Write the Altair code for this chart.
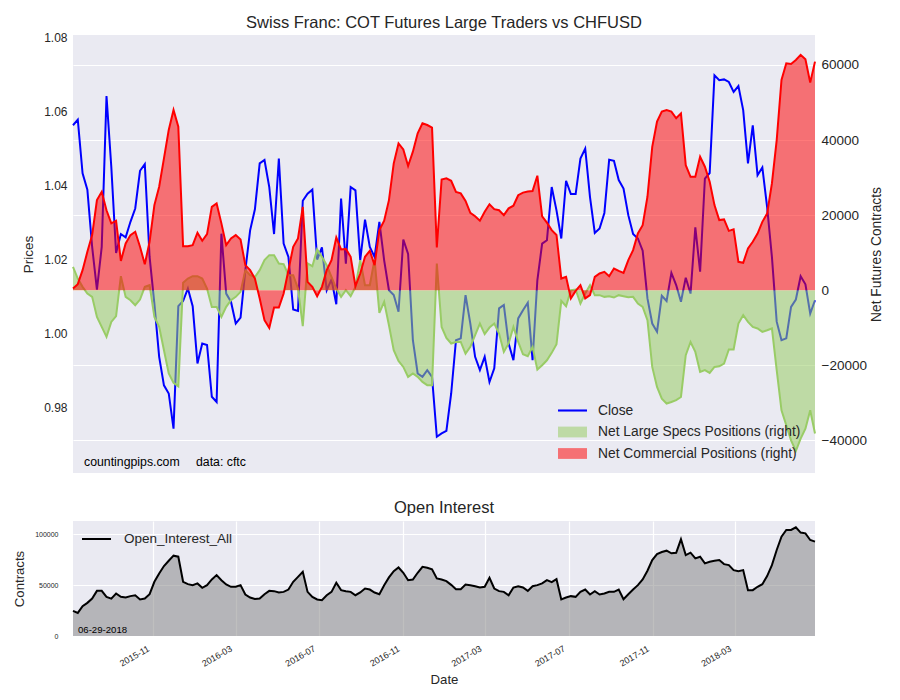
import altair as alt
import pandas as pd

FONT = "Liberation Sans"
TXT = "#262626"

dates = pd.date_range("2015-07-07", periods=156, freq="7D")

close = [
    1.0562, 1.0577, 1.0432, 1.0388, 1.0233, 1.0118, 1.0233, 1.0641, 1.0450, 1.0217,
    1.0268, 1.0259, 1.0301, 1.0337, 1.0439, 1.0457, 1.0206, 1.0080, 0.9936, 0.9859,
    0.9837, 0.9742, 1.0073, 1.0087, 1.0121, 1.0073, 0.9918, 0.9972, 0.9968, 0.9828,
    0.9814, 1.0269, 1.0107, 1.0085, 1.0026, 1.0042, 1.0170, 1.0278, 1.0335, 1.0459,
    1.0468, 1.0395, 1.0268, 1.0472, 1.0242, 1.0206, 1.0064, 1.0060, 1.0358, 1.0377,
    1.0388, 1.0199, 1.0232, 1.0116, 1.0145, 1.0078, 1.0364, 1.0188, 1.0395, 1.0386,
    1.0197, 1.0307, 1.0233, 1.0206, 1.0301, 1.0197, 1.0116, 1.0103, 1.0058, 1.0253,
    1.0214, 0.9981, 0.9891, 0.9882, 0.9900, 0.9882, 0.9720, 0.9729, 0.9736, 0.9837,
    0.9981, 0.9986, 1.0103, 1.0026, 0.9936, 0.9900, 0.9936, 0.9868, 0.9905, 1.0067,
    1.0076, 0.9972, 0.9927, 1.0040, 1.0062, 1.0082, 0.9927, 1.0143, 1.0242, 1.0251,
    1.0395, 1.0332, 1.0256, 1.0412, 1.0376, 1.0376, 1.0472, 1.0499, 1.0368, 1.0271,
    1.0283, 1.0325, 1.0469, 1.0466, 1.0414, 1.0391, 1.0319, 1.0268, 1.0256, 1.0223,
    1.0094, 1.0026, 1.0004, 1.0101, 1.0087, 1.0163, 1.0130, 1.0085, 1.0150, 1.0107,
    1.0286, 1.0166, 1.0418, 1.0433, 1.0697, 1.0684, 1.0686, 1.0679, 1.0652, 1.0668,
    1.0603, 1.0459, 1.0562, 1.0427, 1.0448, 1.0341, 1.0206, 1.0031, 0.9981, 0.9986,
    1.0071, 1.0091, 1.0154, 1.0132, 1.0053, 1.0089,
]

commercial = [
    445, 1600, 5330, 10220, 14670, 24000, 26200, 21300, 17800, 18500,
    7800, 12450, 14670, 15560, 11560, 6930, 12900, 22670, 27560, 35100,
    42700, 48000, 43560, 11730, 11730, 12000, 15300, 13160, 14930, 22200,
    23100, 17800, 12000, 13780, 14670, 13500, 6670, 5330, 3100, -2200,
    -8000, -10050, -4620, -4620, -890, 5330, 11560, 13780, 22200, 2220,
    890, -1600, 890, 5330, 8000, 14050, 10850, 11000, 8890, 1070,
    4450, 8890, 10500, 6670, 16000, 18500, 24000, 33800, 39100, 37500,
    33100, 36900, 41800, 44450, 44000, 43300, 11400, 29500, 29800, 29160,
    26200, 25800, 23800, 20600, 19700, 18500, 20900, 22900, 21600, 21300,
    20000, 21800, 22500, 25300, 26000, 26300, 26400, 30500, 19700, 18000,
    16000, 14700, 3100, 3560, -2200, -180, 1330, -2200, -1330, 3560,
    4450, 4890, 3730, 5780, 5160, 4620, 8000, 10670, 15100, 17300,
    24900, 38200, 44900, 47560, 48000, 47560, 45800, 47100, 33300, 30200,
    30200, 35560, 32900, 28900, 22670, 18670, 18850, 15800, 16200, 7560,
    7290, 11100, 12900, 15100, 18200, 20400, 28450, 40000, 56000, 60450,
    60270, 61340, 62700, 61500, 55300, 60900,
]

specs = [
    6220, 3110, 890, -890, -1780, -7110, -9780, -12450, -8450, -6930,
    3730, -1780, -2670, -4000, -2490, 890, 1330, -7110, -9780, -16000,
    -22200, -24700, -25600, 1960, 3110, 3730, 3730, 3110, 445, -4450,
    -4450, -7110, -4450, -2670, -1780, -445, 5330, 4000, 3500, 5330,
    8000, 9330, 9330, 7110, 6930, 4000, 4000, 445, -9600, 7110,
    6400, 10850, 8890, 6670, 3560, 445, -1780, 0, -1600, 890,
    8000, 1330, 1330, 8180, -6050, -3110, -9330, -16000, -18850, -20450,
    -23100, -22200, -23100, -24450, -25300, -25300, 7110, -9780, -12700, -14200,
    -13800, -13800, -16900, -15100, -12000, -8890, -11700, -9960, -8890, -11560,
    -16450, -14200, -9780, -13800, -17070, -17600, -15100, -21160, -20000, -18670,
    -16700, -14400, -2840, -4270, 0, 180, -3560, -890, 1330, -1330,
    -1330, -1780, -1600, -1960, -1330, -1600, -1870, -1780, -3560, -4450,
    -8000, -20450, -25780, -28900, -30200, -29800, -29300, -28450, -17330, -13800,
    -16450, -21800, -21300, -22050, -20450, -20270, -19560, -15800, -15800, -8890,
    -6670, -8450, -9780, -10200, -11100, -10670, -10200, -21300, -32000, -36000,
    -40000, -42850, -39560, -36900, -32000, -38200,
]

open_interest = [
    24700, 22700, 29300, 32600, 36800, 44400, 44400, 38500, 36800, 41800,
    38500, 37800, 39200, 40100, 35900, 36800, 41100, 53300, 61500, 68800,
    74000, 79000, 78000, 53300, 51000, 50000, 51700, 47400, 50000, 55600,
    59900, 54900, 50700, 48400, 48400, 50000, 40800, 37800, 36500, 36800,
    41100, 44400, 44100, 42800, 43400, 45700, 53300, 58200, 63200, 43400,
    38500, 35900, 35200, 40100, 43400, 52300, 45100, 44100, 43400, 40100,
    42800, 46700, 45700, 42800, 41100, 50000, 57600, 63800, 67400, 62200,
    54900, 55600, 62200, 68100, 67100, 65500, 56600, 55600, 54000, 50300,
    46100, 46100, 50700, 50000, 49000, 47700, 48400, 57200, 46700, 44100,
    43400, 40100, 47700, 49000, 47700, 44400, 49000, 50000, 51700, 54900,
    53000, 55900, 35900, 37800, 39200, 38500, 43400, 45700, 40800, 44100,
    40800, 41800, 43400, 43400, 45700, 36200, 41100, 45700, 50000, 55600,
    64200, 74700, 80600, 82600, 83900, 81300, 81900, 95100, 79600, 81900,
    76300, 78000, 71400, 73000, 74000, 74700, 70700, 69700, 64800, 63800,
    64800, 45100, 45100, 48400, 51000, 58900, 69700, 84600, 97700, 104300,
    104300, 106900, 101700, 101000, 94400, 92800,
]

series_names = ["Close", "Net Large Specs Positions (right)", "Net Commercial Positions (right)"]
oi_name = "Open_Interest_All"
tick_months = [(2015, 11), (2016, 3), (2016, 7), (2016, 11), (2017, 3), (2017, 7), (2017, 11), (2018, 3)]

df = pd.DataFrame({
    "date": dates, "close": close, "commercial": commercial,
    "specs": specs, "oi": open_interest,
})
df["label"] = oi_name

x_dom = [alt.DateTime(year=2015, month=7, date=7), alt.DateTime(year=2018, month=6, date=26)]
x_ticks = [alt.DateTime(year=y, month=m, date=1) for y, m in tick_months]

# ---------------- top panel ----------------
base = alt.Chart(df).encode(
    x=alt.X("date:T", scale=alt.Scale(domain=x_dom), axis=None)
)

left_axis = alt.Axis(
    values=[0.98, 1.00, 1.02, 1.04, 1.06, 1.08], format=".2f", grid=False,
    ticks=False, domain=False, labelFontSize=12, labelPadding=6,
    title="Prices", titleFontSize=13.5, titlePadding=8, titleFontWeight="normal",
)
close_line = base.mark_line(color="#0000ff", strokeWidth=2).encode(
    y=alt.Y("close:Q", scale=alt.Scale(domain=[0.9622, 1.0806], nice=False, zero=False),
            axis=left_axis)
)

right_scale = alt.Scale(domain=[-48710, 67990], nice=False, zero=False)
right_axis = alt.Axis(
    orient="right", values=[-40000, -20000, 0, 20000, 40000, 60000], format="d",
    grid=True, gridColor="white", gridWidth=1.2, ticks=False, domain=False,
    labelFontSize=13.5, labelPadding=6, labelAlign="left", title="Net Futures Contracts",
    titleFontSize=13.8, titleAngle=270, titleBaseline="top", titlePadding=3,
    titleFontWeight="normal",
)

specs_area = base.mark_area(
    color="#99cc66", fillOpacity=0.55,
    line={"color": "#99cc66", "strokeWidth": 2},
).encode(
    y=alt.Y("specs:Q", scale=right_scale, axis=right_axis),
    y2=alt.datum(0),
)
comm_area = base.mark_area(
    color="#ff0000", fillOpacity=0.52,
    line={"color": "#ff0000", "strokeWidth": 2},
).encode(
    y=alt.Y("commercial:Q", scale=right_scale, axis=right_axis),
    y2=alt.datum(0),
)

LINE_PATH = "M-1.93,-0.14H1.93V0.14H-1.93Z"
RECT_PATH = "M-1.93,-0.72H1.93V0.72H-1.93Z"
legend_df = pd.DataFrame({"series": series_names, "date": [None] * 3, "v": [None] * 3})
top_legend = alt.Legend(
    title=None, orient="none", legendX=492, legendY=368, padding=0,
    labelFontSize=13.8, labelColor=TXT, labelFont=FONT, labelLimit=400,
    symbolSize=225, symbolStrokeWidth=0, labelOffset=18, rowPadding=6.5,
)
legend_layer = alt.Chart(legend_df).mark_point(filled=True, opacity=1).encode(
    x=alt.X("date:T", scale=alt.Scale(domain=x_dom), axis=None),
    y=alt.Y("v:Q", scale=right_scale, axis=right_axis),
    color=alt.Color("series:N", scale=alt.Scale(
        domain=series_names,
        range=["#0000ff", "rgba(153,204,102,0.55)", "rgba(255,0,0,0.52)"]), legend=top_legend),
    shape=alt.Shape("series:N", scale=alt.Scale(
        domain=series_names, range=[LINE_PATH, RECT_PATH, RECT_PATH]), legend=top_legend),
)

right_layers = alt.layer(specs_area, comm_area, legend_layer)

note1 = alt.Chart(pd.DataFrame({"t": ["countingpips.com"]})).mark_text(
    align="left", baseline="alphabetic", fontSize=12.3, font=FONT, color="black"
).encode(text="t:N", x=alt.value(11), y=alt.value(431))
note2 = alt.Chart(pd.DataFrame({"t": ["data: cftc"]})).mark_text(
    align="left", baseline="alphabetic", fontSize=12.3, font=FONT, color="black"
).encode(text="t:N", x=alt.value(123), y=alt.value(431))

top = alt.layer(close_line, right_layers, note1, note2).resolve_scale(
    y="independent"
).properties(
    width=742, height=438,
    title=alt.TitleParams("Swiss Franc: COT Futures Large Traders vs CHFUSD",
                          fontSize=16.5, fontWeight="normal", color=TXT, font=FONT,
                          anchor="middle", offset=0),
)

# ---------------- bottom panel ----------------
bx = alt.X("date:T", scale=alt.Scale(domain=x_dom),
           axis=alt.Axis(values=x_ticks, format="%Y-%m", labelAngle=330,
                         labelAlign="right", labelBaseline="top", labelOffset=-7,
                         labelFontSize=9, labelPadding=8, ticks=False, domain=False,
                         grid=True, gridColor="white", gridWidth=1.2,
                         title="Date", titleFontSize=13.2, titlePadding=5,
                         titleFontWeight="normal"))
by_scale = alt.Scale(domain=[0, 113100], nice=False)
by_axis = alt.Axis(values=[0, 50000, 100000], format="d", labelFontSize=7,
                   labelPadding=15, ticks=False, domain=False, grid=True,
                   gridColor="white", gridWidth=1.2, title="Contracts",
                   titleFontSize=13.2, titlePadding=8, titleFontWeight="normal")

oi_area = alt.Chart(df).mark_area(color="grey", fillOpacity=0.5).encode(
    x=bx, y=alt.Y("oi:Q", scale=by_scale, axis=by_axis), y2=alt.datum(0)
)
oi_line = alt.Chart(df).mark_line(strokeWidth=2).encode(
    x=bx, y=alt.Y("oi:Q", scale=by_scale, axis=by_axis),
    stroke=alt.Stroke("label:N", scale=alt.Scale(domain=[oi_name], range=["black"]),
                      legend=alt.Legend(title=None, orient="none", legendX=15, legendY=9.5,
                                        padding=0, labelFontSize=13.5, labelColor=TXT,
                                        labelFont=FONT, symbolType="M-1.93,0H1.93",
                                        symbolSize=225, symbolStrokeWidth=2, labelOffset=19)),
)
date_note = alt.Chart(pd.DataFrame({"t": ["06-29-2018"]})).mark_text(
    align="left", baseline="alphabetic", fontSize=9.6, font=FONT, color="black"
).encode(text="t:N", x=alt.value(5), y=alt.value(112))

bottom = alt.layer(oi_area, oi_line, date_note).properties(
    width=742, height=115,
    title=alt.TitleParams("Open Interest", fontSize=16.5, fontWeight="normal",
                          color=TXT, font=FONT, anchor="middle", offset=5),
)

chart = alt.vconcat(top, bottom, spacing=26).resolve_scale(
    color="independent", shape="independent", stroke="independent"
).resolve_legend(
    color="independent", shape="independent", stroke="independent"
).properties(
    padding={"left": 4, "top": 6, "right": 5, "bottom": 5}
).configure(font=FONT, background="white").configure_view(
    fill="#eaeaf2", stroke=None
).configure_axis(
    labelColor=TXT, titleColor=TXT, labelFont=FONT, titleFont=FONT
)

chart.save("out.html", embed_options={"renderer": "svg", "actions": False})
